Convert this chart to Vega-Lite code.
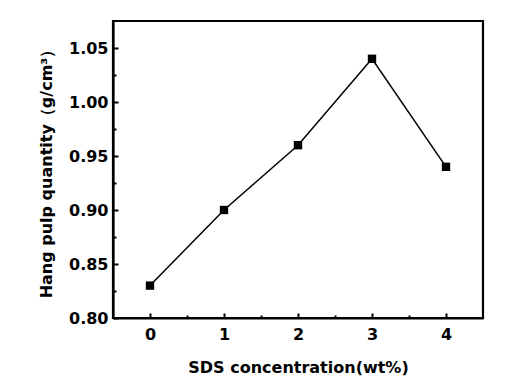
{
  "$schema": "https://vega.github.io/schema/vega-lite/v6.json",
  "width": 370,
  "height": 297,
  "autosize": {"type": "none"},
  "padding": {"left": 113, "top": 21, "right": 23, "bottom": 70},
  "background": "white",
  "config": {
    "view": {"stroke": "black", "strokeWidth": 2.2},
    "axis": {
      "grid": false,
      "domainColor": "black",
      "domainWidth": 2.2,
      "tickColor": "black",
      "tickWidth": 2,
      "labelFont": "DejaVu Sans",
      "labelFontWeight": "bold",
      "labelFontSize": 16,
      "labelColor": "black",
      "titleFont": "DejaVu Sans",
      "titleFontWeight": "bold",
      "titleFontSize": 16,
      "titleColor": "black"
    }
  },
  "data": {
    "values": [
      {"sds": 0, "qty": 0.83},
      {"sds": 1, "qty": 0.90},
      {"sds": 2, "qty": 0.96},
      {"sds": 3, "qty": 1.04},
      {"sds": 4, "qty": 0.94}
    ]
  },
  "encoding": {
    "x": {
      "field": "sds",
      "type": "quantitative",
      "scale": {"domain": [-0.5, 4.5], "nice": false, "zero": false},
      "axis": {
        "title": "SDS concentration(wt%)",
        "values": [0, 0.5, 1, 1.5, 2, 2.5, 3, 3.5, 4],
        "labelExpr": "datum.value % 1 === 0 ? format(datum.value, 'd') : ''",
        "tickSize": {"condition": {"test": "datum.value % 1 === 0", "value": -5}, "value": -3},
        "labelPadding": 13,
        "titlePadding": 17
      }
    },
    "y": {
      "field": "qty",
      "type": "quantitative",
      "scale": {"domain": [0.8, 1.075], "nice": false, "zero": false},
      "axis": {
        "title": "Hang pulp quantity（g/cm³）",
        "values": [0.8, 0.825, 0.85, 0.875, 0.9, 0.925, 0.95, 0.975, 1.0, 1.025, 1.05],
        "labelExpr": "(round(datum.value * 1000) % 50 === 0) ? format(datum.value, '.2f') : ''",
        "tickSize": {"condition": {"test": "round(datum.value * 1000) % 50 === 0", "value": -5}, "value": -3},
        "labelPadding": 10,
        "titlePadding": 14
      }
    }
  },
  "layer": [
    {"mark": {"type": "line", "color": "black", "strokeWidth": 1.5}},
    {"mark": {"type": "square", "color": "black", "opacity": 1, "size": 70, "filled": true}}
  ]
}
